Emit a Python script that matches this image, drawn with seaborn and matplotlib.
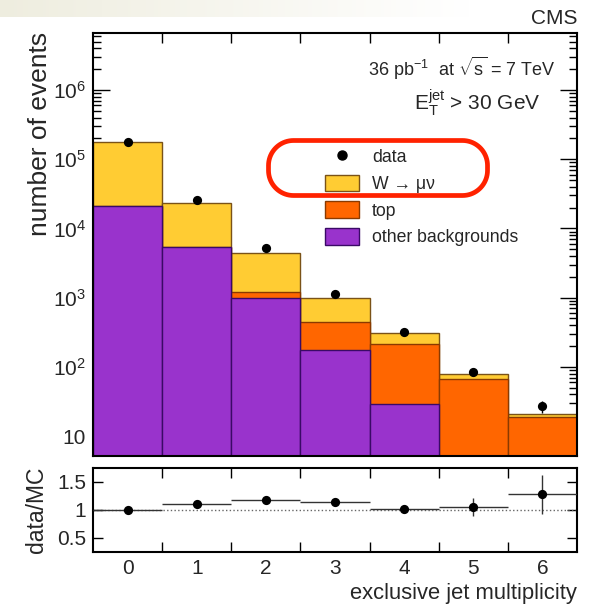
import numpy as np
import pandas as pd
import matplotlib
matplotlib.use("Agg")
import matplotlib.pyplot as plt
import seaborn as sns
from matplotlib.lines import Line2D
from matplotlib.patches import Patch, Polygon
from matplotlib.ticker import FixedLocator, FuncFormatter, LogLocator, NullFormatter

# ---------------- data ----------------
njets = [0, 1, 2, 3, 4, 5, 6]
other_bkg = [20800, 5300, 990, 176, 29, 0, 0]
top_bkg = [150, 150, 230, 273, 184, 67.6, 18.9]
w_munu = [157050, 17850, 3260, 541, 98, 12.4, 2.1]
data = [176000, 25500, 5200, 1130, 320, 84, 27]
ratio = [0.99, 1.10, 1.17, 1.14, 1.02, 1.04, 1.27]
ratio_err = [0.005, 0.01, 0.02, 0.035, 0.06, 0.16, 0.35]
tick_labels = ["0", "1", "2", "3", "4", "5", "6"]

labels = ["data", "W \u2192 \u03bc\u03bd", "top", "other backgrounds"]
col_w, col_top, col_oth = "#FFCC33", "#FF6600", "#9933CC"
edge_w, edge_top, edge_oth = "#7A5218", "#8A3A00", "#3A0A66"

sns.set_theme(style="ticks")
plt.rcParams["font.family"] = ["Liberation Sans", "DejaVu Sans"]
plt.rcParams["mathtext.fontset"] = "custom"
plt.rcParams["mathtext.rm"] = "Liberation Sans"
plt.rcParams["mathtext.it"] = "Liberation Sans:italic"
plt.rcParams["mathtext.bf"] = "Liberation Sans:bold"

W, H = 597, 608
fig = plt.figure(figsize=(W / 100, H / 100), dpi=100)
fig.patch.set_facecolor("white")

def fx(px):
    return px / W

def fy(py):
    return 1 - py / H

# background gradient band (slide header)
bg = fig.add_axes([0, fy(17), fx(470), 17 / H], zorder=-5)
grad = np.linspace(0, 1, 256)[None, :]
c0 = np.array([0.935, 0.93, 0.875])
c1 = np.array([1.0, 1.0, 1.0])
img = c0[None, None, :] * (1 - grad[..., None]) + c1[None, None, :] * grad[..., None]
bg.imshow(img, aspect="auto", extent=[0, 1, 0, 1])
bg.set_axis_off()

ax = fig.add_axes([fx(93), fy(456), fx(577) - fx(93), (456 - 33) / H])
ax2 = fig.add_axes([fx(93), fy(552), fx(577) - fx(93), (552 - 468) / H])

df = pd.DataFrame({"njets": njets, "other": other_bkg, "top": top_bkg, "W": w_munu})
df["stack_top"] = df["other"] + df["top"]
df["stack_all"] = df["stack_top"] + df["W"]

sns.histplot(data=df, x="njets", weights="stack_all", discrete=True, color=col_w,
             edgecolor=edge_w, linewidth=1.0, alpha=1, ax=ax)
sns.histplot(data=df, x="njets", weights="stack_top", discrete=True, color=col_top,
             edgecolor=edge_top, linewidth=1.0, alpha=1, ax=ax)
sns.histplot(data=df[df["other"] > 0], x="njets", weights="other", discrete=True, color=col_oth,
             edgecolor=edge_oth, linewidth=1.0, alpha=1, ax=ax)
ax.set_yscale("log")

ddf = pd.DataFrame({"njets": njets, "data": data})
ax.errorbar(ddf["njets"], ddf["data"], yerr=np.sqrt(ddf["data"]), fmt="none",
            ecolor="black", elinewidth=1, capsize=0, zorder=5)
sns.scatterplot(data=ddf, x="njets", y="data", color="black", s=44, linewidth=0, ax=ax, zorder=6)

ax.set_xlim(-0.5, 6.5)
ax.set_ylim(5.14, 6.67e6)
ax.set_xlabel("")
ax.set_ylabel("")

def logfmt(v, pos):
    e = int(round(np.log10(v)))
    if e == 1:
        return "10"
    return "$10^{%d}$" % e

ax.yaxis.set_major_locator(FixedLocator([10, 1e2, 1e3, 1e4, 1e5, 1e6]))
ax.yaxis.set_major_formatter(FuncFormatter(logfmt))
ax.yaxis.set_minor_locator(LogLocator(base=10, subs=np.arange(2, 10), numticks=20))
ax.yaxis.set_minor_formatter(NullFormatter())
edges = [0.5, 1.5, 2.5, 3.5, 4.5, 5.5]
ax.set_xticks(edges)
ax.set_xticklabels([])
ax.tick_params(axis="both", which="both", direction="in", top=True, right=True, color="black")
ax.tick_params(axis="x", which="major", length=7.2, width=1)
ax.tick_params(axis="y", which="major", length=12, width=1, labelsize=15, pad=5)
ax.tick_params(axis="y", which="minor", length=6, width=1)
for s in ax.spines.values():
    s.set_linewidth(1.5)
    s.set_color("black")
    s.set_visible(True)
ax.set_facecolor("white")

# legend
handles = [
    Line2D([], [], marker="o", color="black", linestyle="none", markersize=6.5),
    Patch(facecolor=col_w, edgecolor=edge_w, linewidth=1),
    Patch(facecolor=col_top, edgecolor=edge_top, linewidth=1),
    Patch(facecolor=col_oth, edgecolor=edge_oth, linewidth=1),
]
leg = ax.legend(handles, labels, loc="upper left", bbox_to_anchor=(fx(325), fy(148)),
                bbox_transform=fig.transFigure, frameon=False, fontsize=12.7,
                handlelength=1.93, handleheight=1.08, handletextpad=0.74,
                labelspacing=0.47, borderpad=0, borderaxespad=0)

# ratio panel
ax2.axhline(1, ls=":", color="#666666", lw=1)
ax2.errorbar(njets, ratio, xerr=0.5, yerr=ratio_err, fmt="none", ecolor="#333333",
             elinewidth=1, capsize=0, zorder=4)
sns.scatterplot(x=njets, y=ratio, color="black", s=44, linewidth=0, ax=ax2, zorder=5)
ax2.set_xlim(-0.5, 6.5)
ax2.set_ylim(0.25, 1.74)
ax2.set_yticks([0.5, 1, 1.5])
ax2.set_yticklabels(["0.5", "1", "1.5"])
ax2.set_xticks(edges)
ax2.set_xticklabels([])
ax2.set_xticks(njets, tick_labels, minor=True)
ax2.tick_params(axis="both", which="major", direction="in", top=True, right=True,
                length=7.2, width=1, color="black", labelsize=15)
ax2.tick_params(axis="x", which="minor", length=0, labelsize=15, pad=5, bottom=True, top=False)
ax2.tick_params(axis="y", which="major", pad=5)
ax2.set_xlabel("")
ax2.set_ylabel("")
for s in ax2.spines.values():
    s.set_linewidth(1.5)
    s.set_color("black")
    s.set_visible(True)

# texts
fig.text(fx(577), fy(18), "CMS", ha="right", va="center", fontsize=15)
fig.text(fx(555), fy(68), "36 pb$^{-1}$  at $\\sqrt{\\mathrm{s}}$ = 7 TeV", ha="right", va="center", fontsize=13)
fig.text(fx(541), fy(103), "$\\mathrm{E}_{\\mathrm{T}}^{\\mathrm{jet}}$ > 30 GeV", ha="right", va="center", fontsize=15)
fig.text(fx(40), fy(32), "number of events", rotation=90, ha="center", va="top", fontsize=19)
fig.text(fx(37), fy(467), "data/MC", rotation=90, ha="center", va="top", fontsize=16.5)
fig.text(fx(577), fy(593), "exclusive jet multiplicity", ha="right", va="center", fontsize=15.8)

# red highlight pill (rounded rectangle, pixel geometry -> inches)
x0, x1, y0, y1, r = 268.5, 487.5, H - 195.5, H - 140.5, 25.0
pts = []
for cx, cy, a0 in [(x1 - r, y0 + r, -90), (x1 - r, y1 - r, 0), (x0 + r, y1 - r, 90), (x0 + r, y0 + r, 180)]:
    t = np.radians(np.linspace(a0, a0 + 90, 20))
    pts += list(zip(cx + r * np.cos(t), cy + r * np.sin(t)))
pts = np.array(pts) / 100.0
pill = Polygon(pts, closed=True, transform=fig.dpi_scale_trans, facecolor="none",
               edgecolor="#FF2200", linewidth=3.4, zorder=10, joinstyle="round")
fig.add_artist(pill)

fig.savefig("out.png", dpi=100)
